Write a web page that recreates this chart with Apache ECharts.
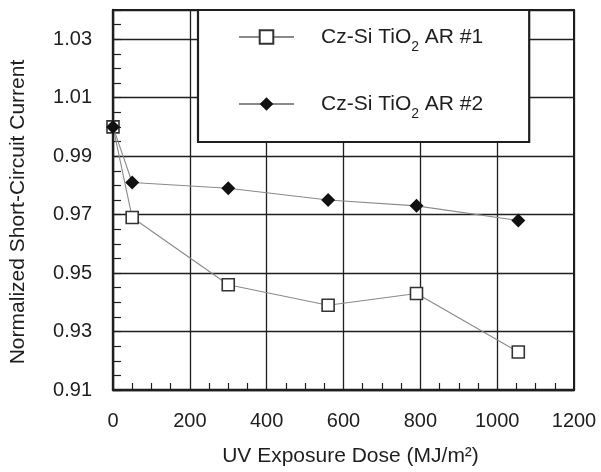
<!DOCTYPE html>
<html><head><meta charset="utf-8">
<script src="https://cdn.jsdelivr.net/npm/echarts@6/dist/echarts.min.js"></script>
<style>html,body{margin:0;padding:0;background:#fff}#c{width:601px;height:472px}</style>
</head><body><div id="c"></div>
<script>
// ---- data ----
const doseAR1 = [0, 50, 300, 560, 790, 1055];
const iscAR1  = [1.000, 0.969, 0.946, 0.939, 0.943, 0.923];
const doseAR2 = [0, 50, 300, 560, 790, 1055];
const iscAR2  = [1.000, 0.981, 0.979, 0.975, 0.973, 0.968];
const seriesNames = ['Cz-Si TiO2 AR #1', 'Cz-Si TiO2 AR #2'];
const xTickLabels = [0, 200, 400, 600, 800, 1000, 1200];
const yTickLabels = [0.91, 0.93, 0.95, 0.97, 0.99, 1.01, 1.03];
const yAxisTop = 1.04;
const xTitle = 'UV Exposure Dose (MJ/m²)';
const yTitle = 'Normalized Short-Circuit Current';

// ---- chart ----
const FONT = '"Liberation Sans", Arial, Helvetica, sans-serif';
const INK = '#1e1e1e';
const chart = echarts.init(document.getElementById('c'), null, {renderer: 'canvas'});
const xInt = xTickLabels[1] - xTickLabels[0];
const yInt = +(yTickLabels[1] - yTickLabels[0]).toFixed(4);

function pairs(xs, ys) { return xs.map((x, i) => [x, ys[i]]); }

const option = {
  animation: false,
  backgroundColor: '#fff',
  grid: {left: 112, right: 27, top: 10, bottom: 78, show: true, borderColor: INK, borderWidth: 2, backgroundColor: 'transparent'},
  legend: {
    orient: 'vertical', left: 198, top: 10,
    padding: [17, 46, 18, 40],
    itemGap: 37, itemWidth: 55, itemHeight: 17,
    backgroundColor: '#fff', borderColor: INK, borderWidth: 2.2,
    z: 10,
    data: seriesNames,
    formatter: name => {
      const m = name.match(/^(.*TiO)2(.*)$/);
      return '{t|' + m[1] + '}{s|2}{t|' + m[2] + '}';
    },
    textStyle: {
      padding: [0, 0, 0, 22],
      rich: {
        t: {fontFamily: FONT, fontSize: 21, color: INK, lineHeight: 20, verticalAlign: 'top'},
        s: {fontFamily: FONT, fontSize: 14, color: INK, lineHeight: 14, verticalAlign: 'top', padding: [13, 0, 3, 0]}
      }
    }
  },
  xAxis: {
    type: 'value', min: xTickLabels[0], max: xTickLabels[xTickLabels.length - 1], interval: xInt,
    name: xTitle, nameLocation: 'middle', nameGap: 56,
    nameTextStyle: {fontFamily: FONT, fontSize: 21, color: INK, padding: [0, 0, 0, 14]},
    axisLine: {show: true, onZero: false, lineStyle: {color: INK, width: 2.4}},
    axisTick: {show: false},
    minorTick: {show: true, splitNumber: 4, length: -7, lineStyle: {color: INK, width: 1.2}},
    axisLabel: {fontFamily: FONT, fontSize: 20, color: INK, margin: 21, formatter: v => String(v)},
    splitLine: {show: true, lineStyle: {color: INK, width: 1.3}}
  },
  yAxis: [{
    // labels + fine ticks (every 0.005)
    type: 'value', min: yTickLabels[0], max: yAxisTop, interval: yInt / 4,
    name: yTitle, nameLocation: 'middle', nameGap: 84, nameRotate: 90,
    nameTextStyle: {fontFamily: FONT, fontSize: 21, color: INK, padding: [0, 24, 0, 0]},
    axisLine: {show: true, onZero: false, lineStyle: {color: INK, width: 2.4}},
    axisTick: {show: true, inside: true, length: 8, lineStyle: {color: INK, width: 1.2}},
    axisLabel: {fontFamily: FONT, fontSize: 20, color: INK, margin: 21, hideOverlap: false,
      formatter: v => yTickLabels.some(t => Math.abs(t - v) < 1e-6) ? v.toFixed(2) : ''},
    splitLine: {show: false}
  }, {
    // grid lines every 0.02
    type: 'value', position: 'left', min: yTickLabels[0], max: yAxisTop, interval: yInt,
    axisLine: {show: false, onZero: false}, axisLabel: {show: false}, axisTick: {show: false},
    splitLine: {show: true, lineStyle: {color: INK, width: 1.3}}
  }],
  series: [{
    name: seriesNames[0], type: 'line', data: pairs(doseAR1, iscAR1),
    symbol: 'rect', symbolSize: 12, showAllSymbol: true, z: 3,
    lineStyle: {color: '#8a8a8a', width: 1.1},
    itemStyle: {color: '#fff', borderColor: '#333', borderWidth: 1.6}
  }, {
    name: seriesNames[1], type: 'line', data: pairs(doseAR2, iscAR2),
    symbol: 'diamond', symbolSize: 14, showAllSymbol: true, z: 4,
    lineStyle: {color: '#8a8a8a', width: 1.1},
    itemStyle: {color: '#111', borderColor: '#111', borderWidth: 0}
  }]
};
chart.setOption(option);
</script></body></html>
